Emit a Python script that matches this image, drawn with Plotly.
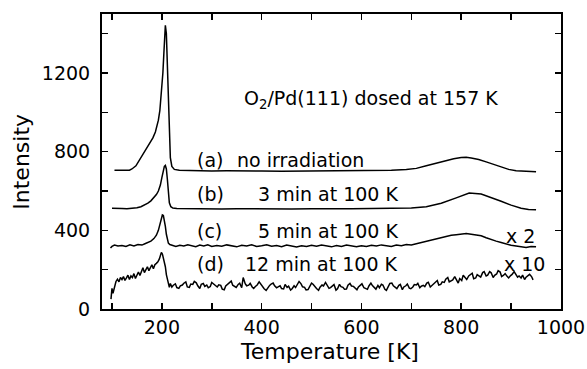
import plotly.graph_objects as go

# Curve (a): no irradiation
T_a = [105, 115, 125, 135, 140, 148, 156, 164, 170, 176, 182, 187, 190, 193, 196, 199, 202, 204,
       206, 207, 209, 211, 213, 215, 217, 220, 225, 235, 250, 270, 300, 330, 360, 400, 440, 480,
       520, 560, 600, 630, 660, 690, 710, 730, 750, 770, 785, 800, 810, 820, 835, 850, 865, 880,
       895, 910, 925, 940, 950]
I_a = [706, 704, 705, 706, 712, 728, 760, 795, 820, 842, 870, 900, 925, 960, 1010, 1090, 1200, 1300,
       1400, 1442, 1400, 1250, 1050, 870, 770, 725, 710, 705, 704, 703, 702, 703, 701, 702, 700, 701,
       700, 702, 703, 702, 705, 709, 715, 728, 742, 756, 764, 770, 772, 768, 760, 748, 736, 722,
       710, 703, 700, 699, 698]

# Curve (b): 3 min at 100 K
T_b = [100, 110, 120, 130, 140, 150, 158, 165, 172, 178, 184, 189, 193, 197, 200, 203, 205, 207,
       209, 211, 213, 215, 218, 222, 230, 245, 265, 290, 320, 350, 380, 420, 460, 500, 540, 580,
       620, 660, 700, 730, 760, 790, 816, 840, 860, 880, 900, 920, 935, 950]
I_b = [512, 510, 511, 510, 512, 515, 520, 528, 538, 550, 565, 582, 600, 630, 668, 705, 725, 730,
       712, 660, 590, 540, 520, 513, 511, 510, 509, 510, 508, 510, 509, 510, 508, 510, 509, 510,
       511, 512, 514, 520, 538, 565, 590, 585, 568, 548, 528, 512, 506, 505]

# Curve (c): 5 min at 100 K (x 2)
T_c = [97, 100, 105, 112, 120, 128, 136, 144, 152, 160, 166, 172, 178, 184, 189, 193, 196, 199,
       201, 203, 205, 207, 209, 211, 213, 216, 220, 228, 236, 244, 252, 260, 268, 276, 284, 292,
       300, 310, 320, 330, 340, 350, 360, 370, 380, 390, 400, 410, 420, 430, 440, 450, 460, 470,
       480, 490, 500, 510, 520, 530, 540, 550, 560, 570, 580, 590, 600, 610, 620, 630, 640, 650,
       660, 670, 680, 690, 700, 710, 720, 730, 740, 750, 760, 770, 780, 790, 800, 810, 820, 830,
       840, 850, 860, 870, 880, 890, 900, 910, 920, 930, 940, 950]
I_c = [310, 318, 325, 320, 323, 318, 326, 321, 328, 325, 332, 338, 345, 358, 375, 400, 430, 462,
       478, 475, 455, 420, 380, 350, 335, 328, 325, 318, 324, 320, 327, 322, 317, 325, 320, 326,
       318, 323, 319, 326, 321, 316, 324, 320, 326, 318, 322, 327, 319, 323, 317, 325, 320, 315,
       322, 318, 324, 319, 325, 320, 316, 323, 318, 325, 321, 316, 322, 318, 324, 320, 326, 321,
       318, 325, 322, 328, 326, 332, 338, 345, 350, 358, 362, 370, 375, 378, 382, 384, 380, 376,
       372, 362, 352, 345, 338, 330, 324, 320, 316, 313, 318, 316]

# Curve (d): 12 min at 100 K (x 10)
T_d = [98, 100, 102, 105, 108, 111, 114, 117, 120, 123, 126, 129, 132, 135, 138, 141, 144, 147,
       150, 153, 156, 159, 162, 165, 168, 171, 174, 177, 180, 183, 186, 189, 192, 195, 197, 199,
       201, 203, 205, 207, 209, 211, 213, 215, 217,
       220, 223, 227, 230, 234, 237, 241, 244, 248, 251, 255, 258, 262, 265, 269, 272, 276, 279,
       283, 286, 290, 293, 297, 300, 304, 307, 311, 314, 318, 321, 325, 328, 332, 335, 339, 342,
       346, 349, 353, 356, 360, 363, 367, 370, 374, 377, 381, 384, 388, 391, 395, 398, 402, 405,
       409, 412, 416, 419, 423, 426, 430, 433, 437, 440, 444, 447, 451, 454, 458, 461, 465, 468,
       472, 475, 479, 482, 486, 489, 493, 496, 500, 503, 507, 510, 514, 517, 521, 524, 528, 531,
       535, 538, 542, 545, 549, 552, 556, 559, 563, 566, 570, 573, 577, 580, 584, 587, 591, 594,
       598, 601, 605, 608, 612, 615, 619, 622, 626, 629, 633, 636, 640, 643, 647, 650, 654, 657,
       661, 664, 668, 671, 675, 678, 682, 685, 689, 692, 696, 699, 703, 706, 710, 713, 717, 720,
       724, 727, 731, 734, 738, 741, 745, 748, 752, 755, 759, 762, 766, 769, 773, 776, 780, 783,
       787, 790, 794, 797, 801, 804, 808, 811, 815, 818, 822, 825, 829, 832, 836, 839, 843, 846,
       850, 853, 857, 860, 864, 867, 871, 874, 878, 881, 885, 888, 892, 895, 899, 902, 906, 909,
       913, 916, 920, 923, 927, 930, 934, 937, 941, 944]
I_d = [50, 105, 80, 120, 140, 152, 138, 160, 150, 165, 145, 158, 172, 150, 168, 160, 180, 155,
       175, 188, 170, 195, 210, 185, 200, 215, 195, 212, 225, 205, 225, 232, 240, 255, 275, 288,
       280, 262, 240, 215, 175, 150, 125, 110, 130,
       112, 121, 128, 109, 105, 118, 122, 131, 138, 112, 110, 127, 125, 140, 133, 118, 104, 126,
       130, 115, 122, 108, 114, 135, 126, 119, 112, 123, 120, 101, 98, 117, 128, 136, 142, 121,
       115, 110, 125, 131, 108, 160, 129, 118, 121, 130, 112, 105, 116, 122, 138, 127, 112, 103,
       95, 109, 120, 127, 132, 118, 108, 112, 118, 104, 102, 125, 110, 116, 96, 103, 118, 109,
       125, 140, 128, 113, 110, 97, 99, 115, 132, 126, 112, 104, 95, 111, 122, 117, 135, 120,
       105, 109, 118, 124, 96, 103, 125, 114, 110, 101, 102, 121, 130, 117, 115, 106, 98, 112,
       120, 128, 108, 104, 100, 117, 132, 119, 110, 101, 120, 108, 126, 122, 100, 95, 115, 130,
       132, 118, 110, 104, 120, 125, 98, 112, 118, 127, 106, 103, 112, 124, 122, 130, 108, 116,
       120, 114, 132, 136, 112, 119, 128, 140, 145, 122, 125, 138, 135, 152, 160, 138, 143, 148,
       165, 150, 132, 155, 145, 172, 158, 150, 168, 176, 182, 154, 158, 175, 169, 162, 185, 190,
       168, 172, 190, 184, 160, 171, 178, 195, 188, 165, 172, 180, 166, 158, 170, 176, 190, 177,
       162, 168, 158, 172, 150, 162, 168, 176, 165, 148, 152, 158, 138, 145, 150, 128, 140, 142,
       120, 126, 138, 132, 112, 124, 130, 105, 112, 126, 115, 100, 118, 142]

x_ticks = [100, 200, 300, 400, 500, 600, 700, 800, 900, 1000]
x_labels = ["", "200", "", "400", "", "600", "", "800", "", "1000"]
y_ticks = [0, 200, 400, 600, 800, 1000, 1200, 1400]
y_labels = ["0", "", "400", "", "800", "", "1200", ""]

FONT = "DejaVu Sans"
line = dict(color="black", width=1.5)

fig = go.Figure()
for T, I in [(T_a, I_a), (T_b, I_b), (T_c, I_c), (T_d, I_d)]:
    fig.add_trace(go.Scatter(x=T, y=I, mode="lines", line=line, showlegend=False,
                             hoverinfo="skip"))

ann_font = dict(family=FONT, size=19, color="black")
annotations = [
    dict(x=360, y=1065, text="O<sub>2</sub>/Pd(111) dosed at 157 K", xanchor="left"),
    dict(x=266, y=760, text="(a)", xanchor="left"),
    dict(x=346, y=760, text="no irradiation", xanchor="left"),
    dict(x=266, y=587, text="(b)", xanchor="left"),
    dict(x=678, y=587, text="3 min at 100 K", xanchor="right"),
    dict(x=266, y=398, text="(c)", xanchor="left"),
    dict(x=678, y=398, text="5 min at 100 K", xanchor="right"),
    dict(x=266, y=228, text="(d)", xanchor="left"),
    dict(x=678, y=228, text="12 min at 100 K", xanchor="right"),
    dict(x=952, y=372, text="x 2", xanchor="right"),
    dict(x=972, y=230, text="x 10", xanchor="right"),
]
for a in annotations:
    a.update(xref="x", yref="y", showarrow=False, yanchor="middle", font=ann_font)

title_font = dict(family=FONT, size=22, color="black")
annotations.append(dict(x=536, y=-0.145, xref="x", yref="paper", text="Temperature [K]",
                        showarrow=False, xanchor="center", yanchor="middle", font=title_font))
annotations.append(dict(x=-0.176, y=0.5, xref="paper", yref="paper", text="Intensity",
                        textangle=-90, showarrow=False, xanchor="center", yanchor="middle",
                        font=title_font))

axis_common = dict(showline=True, linecolor="black", linewidth=2, mirror="ticks",
                   ticks="inside", ticklen=6, tickwidth=1.5, tickcolor="black",
                   showgrid=False, zeroline=False, automargin=False,
                   tickfont=dict(family=FONT, size=19, color="black"))

fig.update_layout(
    width=587, height=369,
    margin=dict(l=102, r=26, t=14, b=60),
    paper_bgcolor="white", plot_bgcolor="white",
    annotations=annotations,
    xaxis=dict(range=[80, 1000], tickvals=x_ticks, ticktext=x_labels, **axis_common),
    yaxis=dict(range=[0, 1500], tickvals=y_ticks, ticktext=y_labels, ticklabelstandoff=6,
               **axis_common),
)

fig.write_html("out.html", config={"displayModeBar": False, "staticPlot": True},
               post_script="document.body.style.margin='0';document.body.style.padding='0';")
